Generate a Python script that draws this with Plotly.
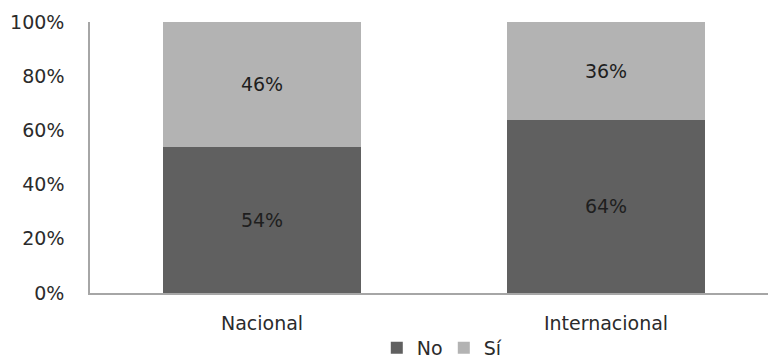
import plotly.graph_objects as go

categories = ["Nacional", "Internacional"]
no_values = [54, 64]
si_values = [46, 36]
series_names = ["No", "Sí"]
y_ticks = [0, 20, 40, 60, 80, 100]
y_tick_labels = ["0%", "20%", "40%", "60%", "80%", "100%"]

FONT = "DejaVu Sans"
TXT = "#2b2b2b"
FS = 19

fig = go.Figure()
fig.add_trace(go.Bar(
    x=categories, y=no_values, name=series_names[0],
    marker=dict(color="#606060", line=dict(width=0)),
    text=[f"{v}%" for v in no_values], textposition="inside",
    insidetextanchor="middle", textangle=0,
    textfont=dict(family=FONT, size=FS, color="#1e1e1e"),
))
fig.add_trace(go.Bar(
    x=categories, y=si_values, name=series_names[1],
    marker=dict(color="#b3b3b3", line=dict(width=0)),
    text=[f"{v}%" for v in si_values], textposition="inside",
    insidetextanchor="middle", textangle=0,
    textfont=dict(family=FONT, size=FS, color="#1e1e1e"),
))

plot_w = 768 - 90
unit = 344.0
fig.update_layout(
    barmode="stack",
    bargap=0.427,
    width=768, height=358,
    margin=dict(l=90, r=0, t=22, b=65, pad=0, autoexpand=False),
    paper_bgcolor="white", plot_bgcolor="white",
    font=dict(family=FONT, size=FS, color=TXT),
    showlegend=True,
    legend=dict(
        orientation="h", x=0.423, xanchor="left", y=-0.203, yanchor="middle",
        font=dict(family=FONT, size=FS, color=TXT),
        itemwidth=30, traceorder="normal", tracegroupgap=0,
        entrywidth=22, entrywidthmode="pixels",
        bgcolor="rgba(0,0,0,0)",
    ),
    uniformtext=dict(mode="show", minsize=10),
)
fig.update_xaxes(
    range=[-0.5, -0.5 + plot_w / unit],
    showline=True, linecolor="#a6a6a6", linewidth=1.5,
    showgrid=False, ticks="", zeroline=False,
    automargin=False, ticklabelstandoff=12,
    tickfont=dict(family=FONT, size=FS, color=TXT),
    fixedrange=True,
)
fig.update_yaxes(
    range=[0, 100],
    tickvals=y_ticks, ticktext=y_tick_labels,
    showline=True, linecolor="#a6a6a6", linewidth=1.5,
    showgrid=False, zeroline=False, ticks="",
    automargin=False, ticklabelstandoff=20,
    tickfont=dict(family=FONT, size=FS, color=TXT),
    fixedrange=True,
)

fig.write_html("out.html", config={"displayModeBar": False})
